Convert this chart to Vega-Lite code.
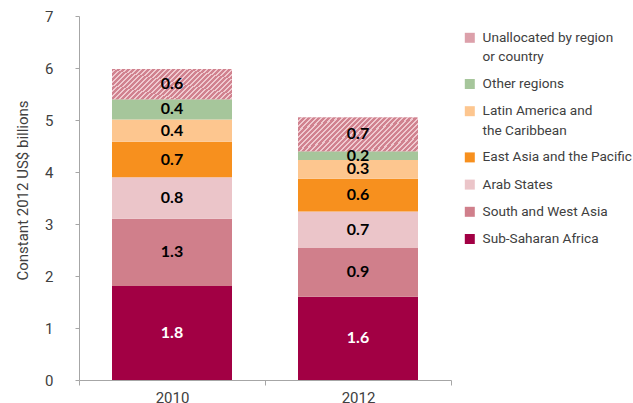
{
  "$schema": "https://vega.github.io/schema/vega-lite/v6.json",
  "autosize": "none",
  "width": 372,
  "height": 364,
  "padding": {"left": 79, "top": 16, "right": 182, "bottom": 23},
  "background": "white",
  "config": {"view": {"stroke": null}, "axis": {"grid": false}},
  "data": {
    "values": [
      {"year": "2010", "region": "Sub-Saharan Africa", "rank": 1, "value": 1.81, "label": "1.8"},
      {"year": "2010", "region": "South and West Asia", "rank": 2, "value": 1.29, "label": "1.3"},
      {"year": "2010", "region": "Arab States", "rank": 3, "value": 0.80, "label": "0.8"},
      {"year": "2010", "region": "East Asia and the Pacific", "rank": 4, "value": 0.68, "label": "0.7"},
      {"year": "2010", "region": "Latin America and the Caribbean", "rank": 5, "value": 0.43, "label": "0.4"},
      {"year": "2010", "region": "Other regions", "rank": 6, "value": 0.39, "label": "0.4"},
      {"year": "2010", "region": "Unallocated by region or country", "rank": 7, "value": 0.58, "label": "0.6"},
      {"year": "2012", "region": "Sub-Saharan Africa", "rank": 1, "value": 1.60, "label": "1.6"},
      {"year": "2012", "region": "South and West Asia", "rank": 2, "value": 0.94, "label": "0.9"},
      {"year": "2012", "region": "Arab States", "rank": 3, "value": 0.70, "label": "0.7"},
      {"year": "2012", "region": "East Asia and the Pacific", "rank": 4, "value": 0.63, "label": "0.6"},
      {"year": "2012", "region": "Latin America and the Caribbean", "rank": 5, "value": 0.36, "label": "0.3"},
      {"year": "2012", "region": "Other regions", "rank": 6, "value": 0.17, "label": "0.2"},
      {"year": "2012", "region": "Unallocated by region or country", "rank": 7, "value": 0.65, "label": "0.7"}
    ]
  },
  "transform": [
    {"stack": "value", "groupby": ["year"], "sort": [{"field": "rank", "order": "ascending"}], "as": ["v0", "v1"]},
    {"calculate": "(datum.v0 + datum.v1) / 2", "as": "mid"}
  ],
  "encoding": {
    "x": {
      "field": "year", "type": "nominal",
      "scale": {"paddingInner": 0, "paddingOuter": 0},
      "axis": {
        "title": null, "labelAngle": 0, "tickBand": "extent",
        "domainColor": "#a6a6a6", "tickColor": "#a6a6a6", "tickSize": 5,
        "labelPadding": 5, "labelFont": "Roboto", "labelFontSize": 15, "labelColor": "#404040"
      }
    }
  },
  "layer": [
    {
      "mark": {"type": "bar", "width": 120},
      "encoding": {
        "y": {
          "field": "v0", "type": "quantitative",
          "scale": {"domain": [0, 7], "nice": false},
          "axis": {
            "title": "Constant 2012 US$ billions",
            "values": [0, 1, 2, 3, 4, 5, 6, 7], "format": "d",
            "domainColor": "#a6a6a6", "tickColor": "#a6a6a6", "tickSize": 4,
            "labelPadding": 22, "labelFont": "Roboto", "labelFontSize": 15, "labelColor": "#404040",
            "titleFont": "Roboto", "titleFontSize": 15, "titleFontWeight": "normal", "titleColor": "#404040",
            "titleAngle": 270, "titleAlign": "center", "titleBaseline": "middle",
            "titleX": -57, "titleY": 174
          }
        },
        "y2": {"field": "v1"},
        "color": {
          "field": "region", "type": "nominal",
          "scale": {
            "domain": ["Unallocated by region or country", "Other regions", "Latin America and the Caribbean", "East Asia and the Pacific", "Arab States", "South and West Asia", "Sub-Saharan Africa"],
            "range": ["#dca0aa", "#a6c69b", "#fdc68f", "#f7901e", "#ebc5c9", "#d07f8b", "#a20044"]
          },
          "legend": {
            "title": null, "orient": "none", "legendX": 384, "legendY": 15,
            "symbolType": "square", "symbolSize": 100, "symbolStrokeWidth": 0,
            "labelFont": "Roboto", "labelFontSize": 13.6, "labelColor": "#404040",
            "labelOffset": 6, "labelLimit": 400, "rowPadding": 12.2,
            "labelExpr": "datum.label === 'Unallocated by region or country' ? ['Unallocated by region', 'or country'] : datum.label === 'Latin America and the Caribbean' ? ['Latin America and', 'the Caribbean'] : datum.label",
            "encode": {
              "labels": {"update": {"lineHeight": {"value": 19.5}}}
            }
          }
        }
      }
    },
    {
      "transform": [{"filter": "datum.region === 'Unallocated by region or country'"}],
      "mark": {
        "type": "bar", "width": 120,
        "fill": {"gradient": "linear", "x1": 0, "y1": 0, "x2": 1.18, "y2": 0.32, "stops": [
          {"offset": 0, "color": "#d0828f"}, {"offset": 0.02, "color": "#d0828f"}, {"offset": 0.02, "color": "#f0cad0"}, {"offset": 0.0333, "color": "#f0cad0"},
          {"offset": 0.0333, "color": "#d0828f"}, {"offset": 0.0533, "color": "#d0828f"}, {"offset": 0.0533, "color": "#f0cad0"}, {"offset": 0.0667, "color": "#f0cad0"},
          {"offset": 0.0667, "color": "#d0828f"}, {"offset": 0.0867, "color": "#d0828f"}, {"offset": 0.0867, "color": "#f0cad0"}, {"offset": 0.1, "color": "#f0cad0"},
          {"offset": 0.1, "color": "#d0828f"}, {"offset": 0.12, "color": "#d0828f"}, {"offset": 0.12, "color": "#f0cad0"}, {"offset": 0.1333, "color": "#f0cad0"},
          {"offset": 0.1333, "color": "#d0828f"}, {"offset": 0.1533, "color": "#d0828f"}, {"offset": 0.1533, "color": "#f0cad0"}, {"offset": 0.1667, "color": "#f0cad0"},
          {"offset": 0.1667, "color": "#d0828f"}, {"offset": 0.1867, "color": "#d0828f"}, {"offset": 0.1867, "color": "#f0cad0"}, {"offset": 0.2, "color": "#f0cad0"},
          {"offset": 0.2, "color": "#d0828f"}, {"offset": 0.22, "color": "#d0828f"}, {"offset": 0.22, "color": "#f0cad0"}, {"offset": 0.2333, "color": "#f0cad0"},
          {"offset": 0.2333, "color": "#d0828f"}, {"offset": 0.2533, "color": "#d0828f"}, {"offset": 0.2533, "color": "#f0cad0"}, {"offset": 0.2667, "color": "#f0cad0"},
          {"offset": 0.2667, "color": "#d0828f"}, {"offset": 0.2867, "color": "#d0828f"}, {"offset": 0.2867, "color": "#f0cad0"}, {"offset": 0.3, "color": "#f0cad0"},
          {"offset": 0.3, "color": "#d0828f"}, {"offset": 0.32, "color": "#d0828f"}, {"offset": 0.32, "color": "#f0cad0"}, {"offset": 0.3333, "color": "#f0cad0"},
          {"offset": 0.3333, "color": "#d0828f"}, {"offset": 0.3533, "color": "#d0828f"}, {"offset": 0.3533, "color": "#f0cad0"}, {"offset": 0.3667, "color": "#f0cad0"},
          {"offset": 0.3667, "color": "#d0828f"}, {"offset": 0.3867, "color": "#d0828f"}, {"offset": 0.3867, "color": "#f0cad0"}, {"offset": 0.4, "color": "#f0cad0"},
          {"offset": 0.4, "color": "#d0828f"}, {"offset": 0.42, "color": "#d0828f"}, {"offset": 0.42, "color": "#f0cad0"}, {"offset": 0.4333, "color": "#f0cad0"},
          {"offset": 0.4333, "color": "#d0828f"}, {"offset": 0.4533, "color": "#d0828f"}, {"offset": 0.4533, "color": "#f0cad0"}, {"offset": 0.4667, "color": "#f0cad0"},
          {"offset": 0.4667, "color": "#d0828f"}, {"offset": 0.4867, "color": "#d0828f"}, {"offset": 0.4867, "color": "#f0cad0"}, {"offset": 0.5, "color": "#f0cad0"},
          {"offset": 0.5, "color": "#d0828f"}, {"offset": 0.52, "color": "#d0828f"}, {"offset": 0.52, "color": "#f0cad0"}, {"offset": 0.5333, "color": "#f0cad0"},
          {"offset": 0.5333, "color": "#d0828f"}, {"offset": 0.5533, "color": "#d0828f"}, {"offset": 0.5533, "color": "#f0cad0"}, {"offset": 0.5667, "color": "#f0cad0"},
          {"offset": 0.5667, "color": "#d0828f"}, {"offset": 0.5867, "color": "#d0828f"}, {"offset": 0.5867, "color": "#f0cad0"}, {"offset": 0.6, "color": "#f0cad0"},
          {"offset": 0.6, "color": "#d0828f"}, {"offset": 0.62, "color": "#d0828f"}, {"offset": 0.62, "color": "#f0cad0"}, {"offset": 0.6333, "color": "#f0cad0"},
          {"offset": 0.6333, "color": "#d0828f"}, {"offset": 0.6533, "color": "#d0828f"}, {"offset": 0.6533, "color": "#f0cad0"}, {"offset": 0.6667, "color": "#f0cad0"},
          {"offset": 0.6667, "color": "#d0828f"}, {"offset": 0.6867, "color": "#d0828f"}, {"offset": 0.6867, "color": "#f0cad0"}, {"offset": 0.7, "color": "#f0cad0"},
          {"offset": 0.7, "color": "#d0828f"}, {"offset": 0.72, "color": "#d0828f"}, {"offset": 0.72, "color": "#f0cad0"}, {"offset": 0.7333, "color": "#f0cad0"},
          {"offset": 0.7333, "color": "#d0828f"}, {"offset": 0.7533, "color": "#d0828f"}, {"offset": 0.7533, "color": "#f0cad0"}, {"offset": 0.7667, "color": "#f0cad0"},
          {"offset": 0.7667, "color": "#d0828f"}, {"offset": 0.7867, "color": "#d0828f"}, {"offset": 0.7867, "color": "#f0cad0"}, {"offset": 0.8, "color": "#f0cad0"},
          {"offset": 0.8, "color": "#d0828f"}, {"offset": 0.82, "color": "#d0828f"}, {"offset": 0.82, "color": "#f0cad0"}, {"offset": 0.8333, "color": "#f0cad0"},
          {"offset": 0.8333, "color": "#d0828f"}, {"offset": 0.8533, "color": "#d0828f"}, {"offset": 0.8533, "color": "#f0cad0"}, {"offset": 0.8667, "color": "#f0cad0"},
          {"offset": 0.8667, "color": "#d0828f"}, {"offset": 0.8867, "color": "#d0828f"}, {"offset": 0.8867, "color": "#f0cad0"}, {"offset": 0.9, "color": "#f0cad0"},
          {"offset": 0.9, "color": "#d0828f"}, {"offset": 0.92, "color": "#d0828f"}, {"offset": 0.92, "color": "#f0cad0"}, {"offset": 0.9333, "color": "#f0cad0"},
          {"offset": 0.9333, "color": "#d0828f"}, {"offset": 0.9533, "color": "#d0828f"}, {"offset": 0.9533, "color": "#f0cad0"}, {"offset": 0.9667, "color": "#f0cad0"},
          {"offset": 0.9667, "color": "#d0828f"}, {"offset": 0.9867, "color": "#d0828f"}, {"offset": 0.9867, "color": "#f0cad0"}, {"offset": 1, "color": "#f0cad0"}
        ]}
      },
      "encoding": {
        "y": {"field": "v0", "type": "quantitative"},
        "y2": {"field": "v1"}
      }
    },
    {
      "mark": {"type": "text", "font": "Lato", "fontWeight": "bold", "fontSize": 16, "baseline": "middle", "align": "center"},
      "encoding": {
        "y": {"field": "mid", "type": "quantitative"},
        "text": {"field": "label", "type": "nominal"},
        "color": {
          "condition": {"test": "datum.region === 'Sub-Saharan Africa'", "value": "white"},
          "value": "black"
        }
      }
    }
  ]
}
